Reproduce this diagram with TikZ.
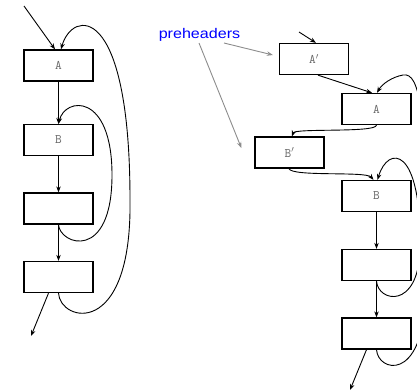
\documentclass[tikz,border=0pt]{standalone}
\usepackage{fontspec}
\newfontfamily\notefont{Liberation Sans}
\usetikzlibrary{arrows.meta,calc}
\tikzset{
  blockbox/.style={draw=black, line width=1.3pt, minimum width=69pt, minimum height=31pt,
    inner sep=0pt, font=\ttfamily\fontsize{13}{13}\selectfont, text=black!60},
  flow/.style={draw=black, line width=0.9pt, -{Stealth[length=6pt,width=4.5pt]}},
  hint/.style={draw=black!45, line width=0.9pt, -{Stealth[length=6pt,width=4.5pt]}},
}
\begin{document}
\begin{tikzpicture}[x=1pt,y=-1pt]
\useasboundingbox (0,0) rectangle (417,391);

% original loop nest
\node[blockbox] (A)  at (58.5,65.5) {A};
\node[blockbox] (B)  at (58.5,140)  {B};
\node[blockbox] (C)  at (58.5,208.5) {};
\node[blockbox] (D)  at (58.5,277)  {};
\coordinate (in1)  at (24,6);
\coordinate (out1) at (31,336);

\draw[flow] (in1) -- ($(A.north)+(-3.5,0)$);
\draw[flow] (A) -- (B);
\draw[flow] (B) -- (C);
\draw[flow] (C) -- (D);
\draw[flow] (C.south) .. controls (60,245) and (112,262) .. (112,175)
                      .. controls (112,92) and (65,97) .. (B.north);
\draw[flow] (D.south) .. controls (60,322) and (132,340) .. (130,200)
                      .. controls (130,0) and (72,10) .. ($(A.north)+(2.5,0)$);
\draw[flow] ($(D.south)+(-10,0)$) -- (out1);

% same nest with preheaders inserted
\node[blockbox] (Ap) at (314,59)    {A$'$};
\node[blockbox] (A2) at (376.5,109) {A};
\node[blockbox] (Bp) at (289.5,152.5) {B$'$};
\node[blockbox] (B2) at (376.5,196) {B};
\node[blockbox] (E)  at (376.5,265) {};
\node[blockbox] (F)  at (376.5,333.5) {};
\coordinate (in2)  at (299,32);
\coordinate (out2) at (350,390);

\draw[flow] (in2) -- ($(Ap.north)+(2,0)$);
\draw[flow] ($(Ap.south)+(4,0)$) -- ($(A2.north)+(-4.5,0)$);
\draw[flow] (A2.south) .. controls (376,133) and (295,128) .. ($(Bp.north)+(2.5,0)$);
\draw[flow] ($(Bp.south)+(-0.5,0)$) .. controls (292,177) and (366,171) .. ($(B2.north)+(-3,0)$);
\draw[flow] (B2) -- (E);
\draw[flow] (E) -- (F);
\draw[flow] (E.south) .. controls (378,302) and (418,310) .. (420,250)
                      .. controls (422,145) and (388,145) .. ($(B2.north)+(1,0)$);
\draw[flow] (F.south) .. controls (378,372) and (422,382) .. (425,300)
                      .. controls (428,110) and (420,72) .. (403,75)
                      .. controls (392,77) and (382,84) .. ($(A2.north)+(0.5,0)$);
\draw[flow] ($(F.south)+(-10,0)$) -- (out2);

% label pointing at the inserted blocks
\node[anchor=base, text=blue, font=\notefont\fontsize{14}{14}\selectfont, xscale=1.15,
      inner sep=0pt] (pre) at (199.5,38) {preheaders};
\draw[hint] (224,43) -- ($(Ap.west)+(-6,-4)$);
\draw[hint] (199,43) -- ($(Bp.west)+(-13,-4.5)$);
\end{tikzpicture}
\end{document}
